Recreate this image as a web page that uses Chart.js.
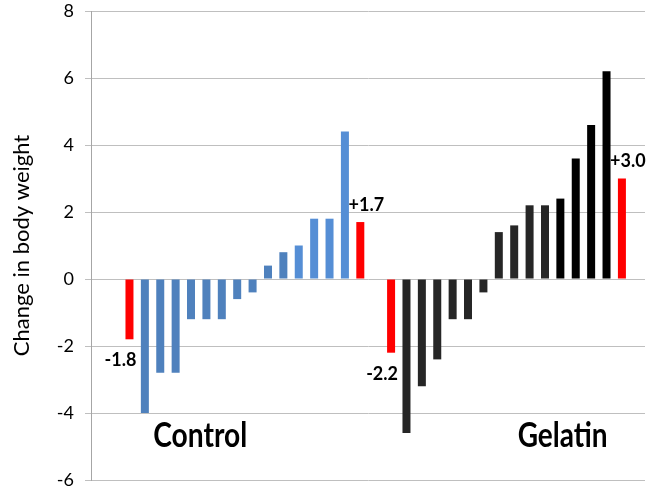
<!DOCTYPE html>
<html>
<head>
<meta charset="utf-8">
<script src="https://cdn.jsdelivr.net/npm/chart.js@4/dist/chart.umd.min.js"></script>
<style>
  html, body { margin: 0; padding: 0; background: #fff; }
  #wrap { width: 647px; height: 495px; }
</style>
</head>
<body>
<div id="wrap"><canvas id="c" width="647" height="495"></canvas></div>
<script>
// ---- data ----
const controlValues = [-4.0, -2.8, -2.8, -1.2, -1.2, -1.2, -0.6, -0.4, 0.4, 0.8, 1.0, 1.8, 1.8, 4.4];
const gelatinValues = [-4.6, -3.2, -2.4, -1.2, -1.2, -0.4, 1.4, 1.6, 2.2, 2.2, 2.4, 3.6, 4.6, 6.2];
const controlMeans = [-1.8, 1.7];   // red bars: mean loss, mean gain
const gelatinMeans = [-2.2, 3.0];
const meanLabels = ["-1.8", "+1.7", "-2.2", "+3.0"];
const groupNames = ["Control", "Gelatin"];
const yTicks = [-6, -4, -2, 0, 2, 4, 6, 8];
const yTitle = "Change in body weight";

// ---- category layout: 2 empty, control block, 1 empty, gelatin block, 1 empty ----
const leadEmpty = 2, midEmpty = 1, tailEmpty = 1;
const blockLen = controlValues.length + 2;
const nCats = leadEmpty + blockLen + midEmpty + blockLen + tailEmpty;
const labels = new Array(nCats).fill("");
const controlData = new Array(nCats).fill(null);
const gelatinData = new Array(nCats).fill(null);
const meanData = new Array(nCats).fill(null);
const cStart = leadEmpty;
const gStart = leadEmpty + blockLen + midEmpty;
meanData[cStart] = controlMeans[0];
controlValues.forEach((v, i) => controlData[cStart + 1 + i] = v);
meanData[cStart + blockLen - 1] = controlMeans[1];
meanData[gStart] = gelatinMeans[0];
gelatinValues.forEach((v, i) => gelatinData[gStart + 1 + i] = v);
meanData[gStart + blockLen - 1] = gelatinMeans[1];
const meanIdx = [cStart, cStart + blockLen - 1, gStart, gStart + blockLen - 1];

const FONT = "Lato, 'Open Sans', sans-serif";

const annot = {
  id: 'annot',
  afterDatasetsDraw(chart) {
    const ctx = chart.ctx;
    const meta = chart.getDatasetMeta(2);
    ctx.save();
    ctx.fillStyle = '#000';
    ctx.font = "bold 18px " + FONT;
    ctx.textAlign = 'center';
    ctx.textBaseline = 'middle';
    meanIdx.forEach((idx, k) => {
      const el = meta.data[idx];
      const v = meanData[idx];
      if (v < 0) ctx.fillText(meanLabels[k], el.x - 9, el.y + 21);
      else ctx.fillText(meanLabels[k], el.x + 6, el.y - 17);
    });
    // group names
    const xs = chart.scales.x, ys = chart.scales.y;
    const pos = [[6.6, -5.0], [30.15, -5.0]];
    ctx.font = "bold 34px " + FONT;
    ctx.textBaseline = 'alphabetic';
    groupNames.forEach((name, k) => {
      const px = xs.getPixelForValue(pos[k][0]);
      const py = ys.getPixelForValue(pos[k][1]);
      const w = ctx.measureText(name).width;
      const sx = (k === 0 ? 94 : 90) / w;
      ctx.save();
      ctx.translate(px, py);
      ctx.scale(sx, 1);
      ctx.fillText(name, 0, 0);
      ctx.restore();
    });
    ctx.restore();
  }
};

new Chart(document.getElementById('c'), {
  type: 'bar',
  data: {
    labels: labels,
    datasets: [
      { label: 'Control', data: controlData,
        backgroundColor: c => (c.raw !== null && c.raw >= 1.0) ? '#558ED5' : '#4F81BD' },
      { label: 'Gelatin', data: gelatinData,
        backgroundColor: c => (c.raw !== null && c.raw >= 2.3) ? '#000000' : '#262626' },
      { label: 'Means', data: meanData, backgroundColor: '#FF0000' }
    ]
  },
  options: {
    responsive: false,
    animation: false,
    devicePixelRatio: 1,
    layout: { padding: { top: 11, bottom: 15, left: 0, right: 2 } },
    datasets: { bar: { grouped: false, categoryPercentage: 1.0, barPercentage: 0.52, borderWidth: 0 } },
    plugins: { legend: { display: false }, tooltip: { enabled: false } },
    scales: {
      x: { display: false },
      y: {
        min: -6, max: 8,
        afterBuildTicks: s => { s.ticks = yTicks.map(v => ({ value: v })); },
        afterFit: s => { s.width = 91; s.paddingTop = 0; s.paddingBottom = 0; },
        ticks: { color: '#000', padding: 11, font: { family: FONT, size: 18 } },
        grid: { color: '#BFBFBF', lineWidth: 1, tickLength: 6, drawTicks: true },
        border: { color: '#A6A6A6', width: 1 },
        title: { display: true, text: yTitle, color: '#000',
                 font: { family: FONT, size: 22 }, padding: { top: 9, bottom: 0 } }
      }
    }
  },
  plugins: [annot]
});
</script>
</body>
</html>
